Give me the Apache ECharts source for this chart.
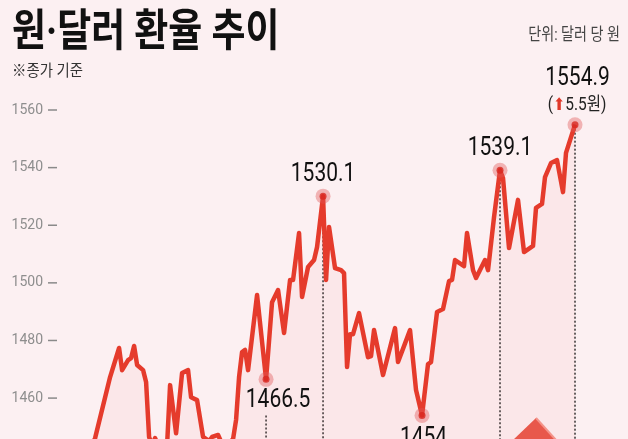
<!DOCTYPE html>
<html>
<head>
<meta charset="utf-8">
<script src="https://cdn.jsdelivr.net/npm/echarts@6.0.0/dist/echarts.min.js"></script>
<style>
  html, body { margin: 0; padding: 0; background: #fcf0f2; }
  #chart { width: 628px; height: 439px; }
</style>
</head>
<body>
<div id="chart"></div>
<script>
// 거래일 순번 (0 = 선이 시작하는 날)
var days = [0, 1, 2, 7, 10, 11, 13, 14, 15, 16, 18, 19, 20, 21, 22, 24, 26, 27, 29, 31,
    33, 34, 36, 38, 40, 41, 43, 45, 48, 49, 50, 51, 52, 53, 56, 59, 61, 63, 65, 67,
    68, 70, 71, 73, 75, 76, 78, 79, 80, 82, 84, 85, 86, 87, 88, 90, 93, 94, 95, 98,
    102, 103, 107, 109, 111, 113, 114, 116, 118, 120, 121, 122, 125, 126, 128, 129, 132, 133, 135, 137,
    138, 140, 143, 145, 148, 149, 151, 152, 154, 156, 158, 159, 162];
// 종가 (원/달러)
var rates = [1438.5, 1443.7, 1446.1, 1467.3, 1477.4, 1469.7, 1473.2, 1473.9, 1478.1, 1471.5, 1469.7, 1465.6, 1446.5, 1443.7, 1446.1, 1441.3, 1443.7, 1464.5, 1447.8, 1468.7,
    1469.7, 1460.3, 1459.3, 1446.5, 1445.1, 1446.5, 1447.2, 1442.6, 1445.8, 1452.4, 1467.3, 1476.0, 1476.7, 1469.7, 1495.8, 1466.5, 1493.3, 1497.5, 1482.6, 1501.0,
    1501.0, 1517.3, 1495.1, 1505.5, 1507.9, 1512.4, 1530.1, 1501.0, 1519.4, 1505.1, 1504.4, 1503.4, 1470.8, 1482.2, 1482.2, 1489.5, 1474.2, 1474.6, 1483.6, 1468.0,
    1484.3, 1472.5, 1483.6, 1462.8, 1454.0, 1471.8, 1472.5, 1489.9, 1490.9, 1500.6, 1501.0, 1507.9, 1505.8, 1517.3, 1504.4, 1501.7, 1507.9, 1504.4, 1522.8, 1539.1,
    1536.4, 1512.1, 1528.8, 1510.7, 1512.8, 1526.0, 1527.4, 1536.7, 1541.6, 1542.6, 1531.5, 1545.1, 1554.9];
// 표시한 지점
var markDays = [59, 78, 111, 137, 162];
var lastChange = 5.5;
// 눈금
var yTicks = [1460, 1480, 1500, 1520, 1540, 1560];
var yBottom = 1445.8; // 그림 아래쪽이 잘린 값
var xStart = -10.7;   // 눈금과 선 시작 사이 여백 (거래일)

var chart = echarts.init(document.getElementById('chart'));
var numFont = "Roboto, 'Noto Sans CJK KR', sans-serif";
var krFont = "Roboto, 'Noto Sans CJK KR', sans-serif";

var lineData = days.map(function (d, i) { return [d, rates[i]]; });
var marks = markDays.map(function (d) { return [d, rates[days.indexOf(d)]]; });
var below = [true, false, true, false, false];

var guides = marks.map(function (p, i) {
    var from = below[i] ? p[1] - 12.5 : p[1];
    return {
        type: 'line', data: [[p[0], from], [p[0], yBottom]],
        symbol: 'none', silent: true, z: 1,
        lineStyle: { color: '#333', width: 1.5, type: [2, 2] }
    };
});

var baseGraphic = [
    {
        type: 'text', x: 12, y: 13, scaleX: 0.84,
        style: { text: '원·달러 환율 추이', fontSize: 44, fontWeight: 'bold', fontFamily: krFont, fill: '#111', textVerticalAlign: 'top' }
    },
    {
        type: 'text', x: 12, y: 64, scaleX: 0.9,
        style: { text: '※종가 기준', fontSize: 16, fontFamily: krFont, fill: '#333', textVerticalAlign: 'top' }
    },
    {
        type: 'text', x: 620, y: 27, scaleX: 0.83,
        style: { text: '단위: 달러 당 원', fontSize: 17, fontFamily: krFont, fill: '#444', textAlign: 'right', textVerticalAlign: 'top' }
    },
    {
        type: 'polygon', z: 5,
        shape: { points: [[536, 418], [557, 441], [512, 441]] },
        style: { fill: '#e8584b' }
    },
    {
        type: 'polyline', z: 6,
        shape: { points: [[536, 418], [556, 440]] },
        style: { stroke: '#f4948a', lineWidth: 2, fill: null }
    }
];

var option = {
    backgroundColor: '#fcf0f2',
    animation: false,
    grid: { left: 57, right: 53, top: 110, bottom: 0 },
    xAxis: { type: 'value', min: xStart, max: 162, show: false },
    yAxis: {
        type: 'value', min: yBottom, max: yTicks[yTicks.length - 1],
        axisLine: { show: false },
        splitLine: { show: false },
        axisTick: { show: false },
        axisLabel: {
            margin: 0, customValues: yTicks,
            formatter: function (v) { return '{v|' + v + '}{t|}'; },
            rich: {
                v: { color: '#8e8e8e', fontSize: 14, fontFamily: numFont, padding: [0, 5, 0, 0] },
                t: { width: 9, height: 1.5, backgroundColor: '#8a8a8a', verticalAlign: 'middle' }
            }
        }
    },
    series: guides.concat([
        {
            type: 'line', data: lineData, symbol: 'none', z: 2,
            lineStyle: { color: '#e53b2c', width: 4.5, join: 'round' },
            areaStyle: { color: 'rgba(229,72,72,0.07)', origin: 'start' }
        },
        {
            type: 'scatter', data: marks, symbolSize: 15, z: 3,
            itemStyle: { color: 'rgba(226,86,86,0.5)' }
        },
        {
            type: 'scatter', data: marks, symbolSize: 7, z: 4,
            itemStyle: { color: '#d8261e' }
        }
    ]),
    graphic: baseGraphic
};
chart.setOption(option);

// 지점 값 표시 (좌표는 차트 눈금으로 환산)
var labelShift = [[12, 21.5], [0, -21.5], [1.5, 23], [0, -21], [2.5, -46]];
var labels = marks.map(function (p, i) {
    var px = chart.convertToPixel({ gridIndex: 0 }, p);
    return {
        type: 'text', x: px[0] + labelShift[i][0], y: px[1] + labelShift[i][1], scaleX: 0.84, z: 10,
        style: {
            text: p[1].toFixed(p[1] % 1 === 0 ? 0 : 1), fontSize: 25, fontFamily: numFont, fill: '#111',
            textAlign: 'center', textVerticalAlign: 'middle'
        }
    };
});
var lastPx = chart.convertToPixel({ gridIndex: 0 }, marks[marks.length - 1]);
labels.push({
    type: 'text', x: lastPx[0] + 2, y: lastPx[1] - 19, scaleX: 0.86, z: 10,
    style: {
        text: '{p|(}{u|⬆}{p|' + lastChange + '원)}',
        textAlign: 'center', textVerticalAlign: 'middle',
        rich: {
            p: { fontSize: 18, fontFamily: numFont, fill: '#222' },
            u: { fontSize: 17, fontFamily: "'DejaVu Sans'", fill: '#e0392b' }
        }
    }
});
chart.setOption({ graphic: baseGraphic.concat(labels) });
</script>
</body>
</html>
